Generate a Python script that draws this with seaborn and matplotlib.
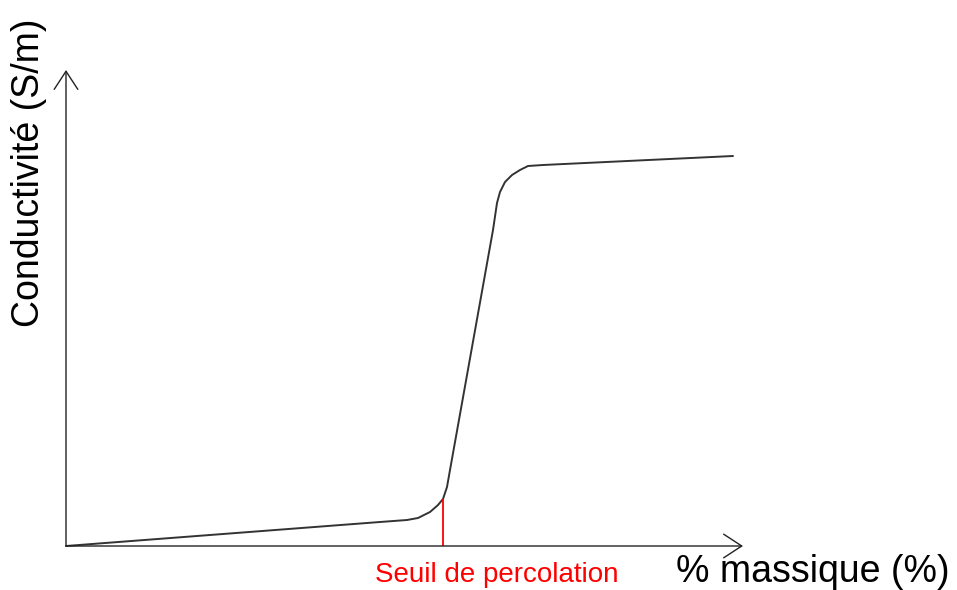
import matplotlib
matplotlib.use("Agg")
import matplotlib.pyplot as plt
import seaborn as sns
import pandas as pd

# Schematic percolation curve (arbitrary units)
mass_fraction = [0.00, 3.14, 3.41, 3.52, 3.64, 3.72, 3.77, 3.81, 3.84,
                 4.27, 4.31, 4.34, 4.39, 4.46, 4.54, 4.62, 4.77, 6.67]
conductivity = [0.00, 0.24, 0.26, 0.28, 0.34, 0.41, 0.47, 0.59, 0.76,
                3.16, 3.43, 3.54, 3.64, 3.71, 3.76, 3.80, 3.81, 3.90]

threshold_x = 3.77
threshold_y = 0.47

x_axis_end = 6.77
y_axis_end = 4.76

x_label = "% massique (%)"
y_label = "Conductivité (S/m)"
threshold_label = "Seuil de percolation"

sns.set_theme(style="white")
plt.rcParams["font.family"] = ["Liberation Sans", "DejaVu Sans"]

fig = plt.figure(figsize=(9.57, 5.90), dpi=100)
ax = fig.add_axes([0, 0, 1, 1])
ax.set_xlim(-0.66, 8.91)
ax.set_ylim(-0.44, 5.46)
ax.set_axis_off()

df = pd.DataFrame({"x": mass_fraction, "y": conductivity})
sns.lineplot(data=df, x="x", y="y", sort=False, color="#333333",
             linewidth=1.4, ax=ax)

# threshold marker
ax.vlines(threshold_x, 0, threshold_y, color="#ff0000", linewidth=1.3)

# axes with open arrowheads
arrow = dict(arrowstyle="->,head_length=1.3,head_width=0.85", color="#222222",
             linewidth=1.0, shrinkA=0, shrinkB=0, mutation_scale=10)
ax.annotate("", xy=(x_axis_end, 0), xytext=(0, 0), arrowprops=arrow)
ax.annotate("", xy=(0, y_axis_end), xytext=(0, 0), arrowprops=arrow)

ax.text(7.47, -0.255, x_label, fontsize=27, color="black",
        ha="center", va="center")
ax.text(-0.37, 3.73, y_label, fontsize=27, color="black",
        ha="center", va="center", rotation=90)
ax.text(4.31, -0.29, threshold_label, fontsize=20, color="#ff0000",
        ha="center", va="center")

fig.savefig("out.png", dpi=100)
